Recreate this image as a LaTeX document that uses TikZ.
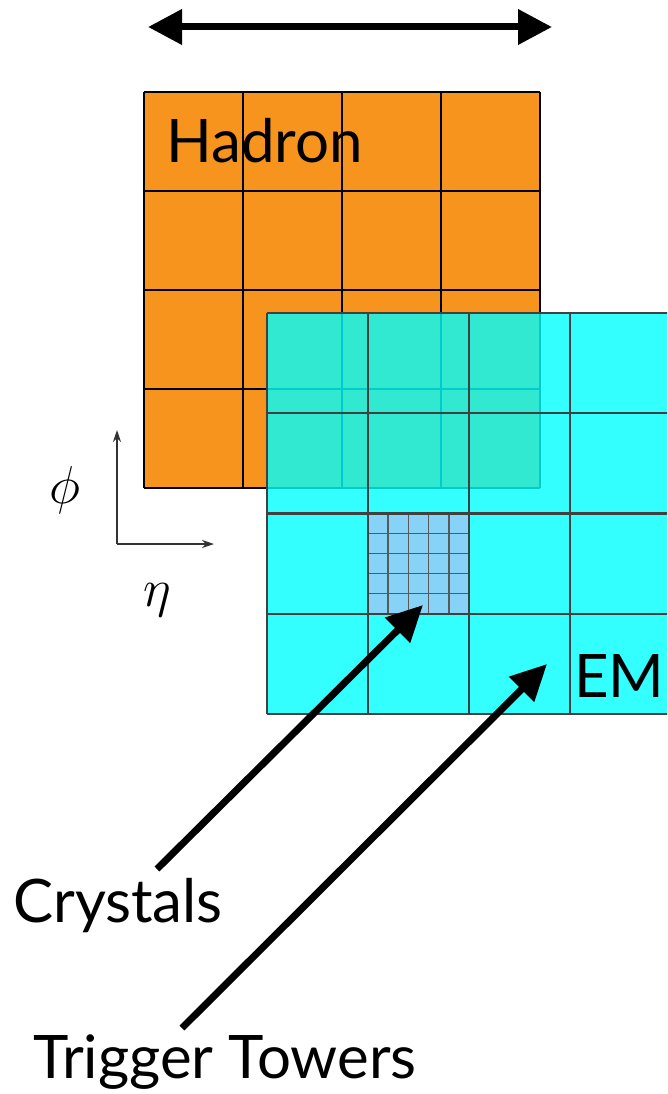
\documentclass[tikz,border=0pt]{standalone}
\usepackage{fontspec}
\setmainfont{Lato}
\usetikzlibrary{arrows.meta}
\definecolor{hadronorange}{RGB}{247,148,29}
\definecolor{emcyan}{RGB}{0,255,255}
\definecolor{crystalblue}{RGB}{135,211,247}

\begin{document}
\begin{tikzpicture}[x=1pt,y=-1pt,
  bigtext/.style={inner sep=0pt,anchor=base west,font=\fontsize{60}{60}\selectfont},
  mathtext/.style={inner sep=0pt,font=\Large,scale=3.7},
  bigarrow/.style={line width=7pt,-{Triangle[length=36pt,width=34pt]}},
  axis/.style={line width=1.5pt,black!80,-{Stealth[length=12pt,width=8pt]}}]
  \useasboundingbox (0,0) rectangle (667,1094);
  \clip (0,0) rectangle (667,1094);

  % width arrow on top
  \coordinate (wleft) at (148,27);
  \coordinate (wright) at (552,27);
  \draw[line width=7pt,{Triangle[length=34pt,width=34pt]}-{Triangle[length=34pt,width=34pt]}] (wleft) -- (wright);

  % hadron towers
  \begin{scope}
    \fill[hadronorange] (144,92) rectangle (540,488);
    \foreach \i in {0,...,4} {
      \draw[line width=2.5pt] (144+99*\i,92) -- (144+99*\i,488);
      \draw[line width=2.5pt] (144,92+99*\i) -- (540,92+99*\i);
    }
    \node[bigtext] (hadron) at (166,163) {Hadron};
  \end{scope}

  % EM towers
  \begin{scope}
    \fill[emcyan,opacity=0.8] (267,313) rectangle (671,714);
    \foreach \i in {0,...,4} {
      \draw[line width=2.3pt,black!75] (267+101*\i,313) -- (267+101*\i,714);
      \draw[line width=2.3pt,black!75] (267,313+100.25*\i) -- (671,313+100.25*\i);
    }
    % crystals
    \fill[crystalblue] (368,513.5) rectangle (469,613.75);
    \foreach \j in {0,...,5} {
      \draw[line width=1.5pt,black!65] (368+20.2*\j,513.5) -- (368+20.2*\j,613.75);
      \draw[line width=1.5pt,black!65] (368,513.5+20.05*\j) -- (469,513.5+20.05*\j);
    }
    \draw[line width=2.3pt,black!75] (368,513.5) rectangle (469,613.75);
    \node[bigtext] (em) at (574,697) {EM};
  \end{scope}

  % eta-phi axes
  \coordinate (orig) at (117,544);
  \coordinate (phiend) at (117,430);
  \coordinate (etaend) at (214,544);
  \draw[axis] (orig) -- (phiend);
  \draw[axis] (orig) -- (etaend);
  \node[mathtext] (phi) at (65,490) {$\phi$};
  \node[mathtext] (eta) at (157,600) {$\eta$};

  % pointers
  \coordinate (crysttail) at (157,869);
  \coordinate (crysttip) at (423,605);
  \coordinate (towertail) at (182,1028);
  \coordinate (towertip) at (547,664);
  \draw[bigarrow] (crysttail) -- (crysttip);
  \draw[bigarrow] (towertail) -- (towertip);
  \node[bigtext] (crystals) at (13,922) {Crystals};
  \node[bigtext] (towers) at (33,1078) {Trigger Towers};
\end{tikzpicture}
\end{document}
